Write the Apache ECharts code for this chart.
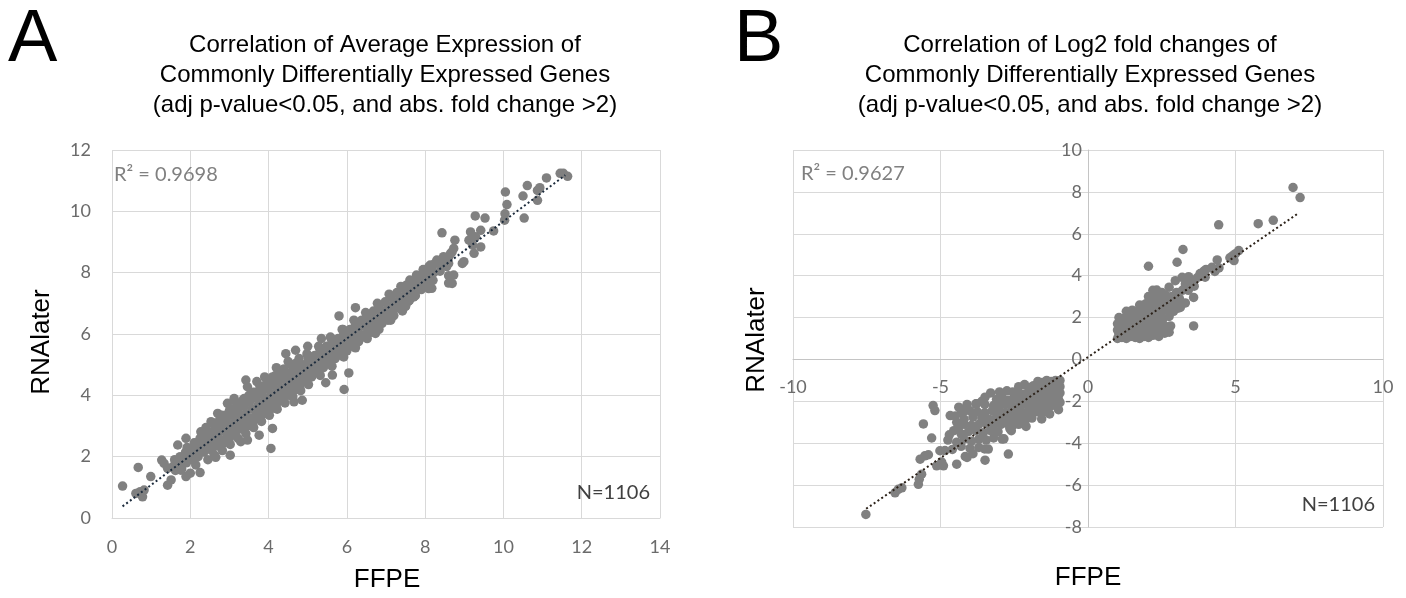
<!DOCTYPE html>
<html><head><meta charset="utf-8">
<script src="https://cdn.jsdelivr.net/npm/echarts@6/dist/echarts.min.js"></script>
<style>html,body{margin:0;padding:0;background:#fff}#c{width:1406px;height:598px}</style>
</head><body><div id="c"></div>
<script>
// ---------- text ----------
const titleA = ['Correlation of Average Expression of', 'Commonly Differentially Expressed Genes', '(adj p-value<0.05, and abs. fold change >2)'];
const titleB = ['Correlation of Log2 fold changes of', 'Commonly Differentially Expressed Genes', '(adj p-value<0.05, and abs. fold change >2)'];
const xName = 'FFPE';
const yName = 'RNAlater';
const r2A = 'R² = 0.9698';
const r2B = 'R² = 0.9627';
const nLabel = 'N=1106';

// ---------- axes ----------
const axisA = { xMin: 0, xMax: 14, xStep: 2, yMin: 0, yMax: 12, yStep: 2 };
const axisB = { xMin: -10, xMax: 10, xStep: 5, yMin: -8, yMax: 10, yStep: 2 };

// ---------- trend lines (endpoints) ----------
const trendA = [[0.27, 0.38], [11.58, 11.18]];
const trendB = [[-7.52, -7.13], [7.08, 6.93]];

// ---------- panel A points: [FFPE, RNAlater] ----------
const pointsA = [
[0.27,1.04],[0.61,0.80],[0.67,1.65],[0.72,0.86],[0.78,0.69],[0.82,0.91],[0.99,1.35],[1.27,1.89],[1.33,1.78],[1.42,1.62],
[1.55,1.67],[1.42,1.07],[1.51,1.24],[1.68,2.38],[1.89,2.60],[1.76,1.56],[1.89,1.35],[2.00,1.46],[2.25,1.48],[2.14,1.73],
[2.27,2.81],[2.44,2.76],[2.65,1.98],[3.02,2.05],[2.53,3.14],[2.70,3.41],[2.95,3.74],[3.12,3.90],[3.29,2.49],[3.46,2.54],
[3.76,2.70],[4.10,2.92],[4.06,2.27],[3.42,4.50],[3.46,4.28],[4.65,3.79],[4.86,3.84],
[1.60,1.90],[1.62,1.55],[1.65,1.75],[1.74,2.00],[1.78,1.60],[1.80,1.85],[1.88,2.15],[1.90,1.80],[1.95,1.95],[1.92,2.30],
[2.02,2.25],[2.05,1.90],[2.08,2.10],[2.10,2.45],[2.18,2.45],[2.20,2.00],[2.22,2.25],[2.25,2.60],[2.32,2.55],[2.35,2.15],
[2.38,2.40],[2.40,2.70],[2.48,2.75],[2.50,2.30],[2.52,2.55],[2.55,2.20],[2.62,2.90],[2.65,2.45],[2.68,2.70],[2.70,2.35],
[2.78,3.05],[2.80,2.55],[2.82,2.85],[2.85,2.45],[2.75,3.20],[2.92,3.20],[2.95,2.70],[2.98,3.00],[3.00,2.60],[2.90,3.35],
[3.08,3.35],[3.10,2.85],[3.12,3.10],[3.15,2.75],[3.05,3.55],[3.22,3.50],[3.25,3.00],[3.28,3.25],[3.30,2.90],[3.20,3.70],
[3.38,3.65],[3.40,3.10],[3.42,3.40],[3.45,3.00],[3.35,3.85],[3.52,3.80],[3.55,3.25],[3.58,3.55],[3.60,3.10],[3.50,4.00],
[3.68,3.90],[3.70,3.40],[3.72,3.65],[3.75,3.25],[3.65,4.10],[3.82,4.05],[3.85,3.55],[3.88,3.80],[3.90,3.40],[3.80,4.25],
[3.98,4.20],[4.00,3.70],[4.02,3.95],[4.05,3.55],[3.95,4.40],[4.12,4.35],[4.15,3.85],[4.18,4.10],[4.20,3.70],[4.10,4.60],
[4.28,4.50],[4.30,4.00],[4.32,4.25],[4.35,3.85],[4.25,4.70],[4.42,4.60],[4.45,4.15],[4.48,4.40],[4.50,4.00],[4.40,4.85],
[4.58,4.75],[4.60,4.30],[4.62,4.55],[4.65,4.15],[4.72,4.90],[4.75,4.45],[4.78,4.70],[4.80,4.30],[4.70,5.05],
[4.88,5.00],[4.90,4.60],[4.92,4.85],[4.95,4.45],[5.02,5.15],[5.05,4.75],[5.08,5.00],[5.10,4.60],[5.00,5.30],
[5.18,5.30],[5.20,4.85],[5.22,5.10],[5.25,4.75],[5.32,5.45],[5.35,5.00],[5.38,5.25],[5.40,4.90],[5.30,5.55],
[5.48,5.60],[5.50,5.15],[5.52,5.40],[5.55,5.05],[5.62,5.70],[5.65,5.30],[5.68,5.55],[5.70,5.20],[5.60,5.85],
[5.78,5.85],[5.80,5.40],[5.82,5.65],[5.85,5.30],[5.92,6.00],[5.95,5.55],[5.98,5.80],[6.00,5.45],[5.90,6.15],
[6.08,6.15],[6.10,5.70],[6.12,5.95],[6.15,5.60],[6.22,6.30],[6.25,5.85],[6.28,6.10],[6.30,5.75],
[6.38,6.45],[6.40,5.95],[6.42,6.25],[6.45,5.90],[6.52,6.60],[6.55,6.10],[6.58,6.40],[6.60,6.05],
[6.68,6.75],[6.70,6.25],[6.72,6.50],[6.75,6.20],[6.82,6.90],[6.85,6.40],[6.88,6.65],[6.90,6.35],
[6.98,7.05],[7.00,6.55],[7.02,6.80],[7.05,6.45],[7.12,7.20],[7.15,6.70],[7.18,6.95],[7.20,6.60],
[7.28,7.35],[7.30,6.85],[7.32,7.10],[7.42,7.50],[7.45,7.00],[7.48,7.25],[7.50,6.90],
[7.58,7.60],[7.60,7.10],[7.62,7.40],[7.72,7.75],[7.75,7.25],[7.78,7.55],
[7.88,7.90],[7.90,7.45],[7.92,7.70],[7.95,8.10],[8.02,8.05],[8.05,7.60],[8.08,7.85],[8.10,8.20],
[8.18,8.20],[8.20,7.75],[8.22,8.00],[8.25,8.30],[8.35,8.30],[8.38,8.05],[8.40,8.40],[8.50,8.45],[8.55,8.20],[8.60,8.50],
[2.40,2.95],[2.45,1.90],[2.58,3.10],[2.62,2.05],[2.80,3.35],[2.82,2.20],[3.00,3.50],[3.02,2.40],[3.18,3.75],[3.22,2.60],
[3.38,3.90],[3.42,2.75],[3.58,4.10],[3.62,2.95],[3.78,4.30],[3.82,3.15],[3.98,4.50],[4.02,3.35],[4.18,4.65],[4.22,3.55],
[4.38,4.85],[4.42,3.75],[4.58,5.00],[4.62,3.95],[4.78,5.20],[4.82,4.15],[4.98,5.35],[5.02,4.35],[5.28,5.60],[5.32,4.65],
[5.58,5.90],[5.62,4.95],[5.88,6.15],[5.92,5.25],[6.18,6.45],[6.22,5.55],[6.48,6.70],[6.52,5.85],[6.78,7.00],[6.82,6.15],
[7.08,7.30],[7.12,6.45],[7.38,7.55],[7.42,6.75],
[2.45,2.45],[2.90,2.90],[3.35,3.30],[3.80,3.70],[4.25,4.15],[4.70,4.60],[5.15,5.00],[5.60,5.40],[6.05,5.85],[6.50,6.30],
[6.95,6.70],[7.40,7.15],[4.20,4.90],[4.50,5.10],[5.00,5.60],[5.35,5.85],[3.90,4.60],[3.70,4.45],
[4.69,5.47],[4.44,5.36],[5.93,4.19],[6.05,4.73],[5.63,4.66],[5.46,4.41],[5.80,6.59],[6.22,6.86],[6.73,6.02],
[7.50,6.94],[7.71,7.21],[8.09,7.48],[8.60,7.90],[8.60,7.66],
[11.53,11.24],[11.45,11.24],[11.64,11.14],[11.10,11.09],[10.61,10.84],[10.87,10.68],[10.93,10.77],[10.87,10.36],
[10.05,10.63],[10.09,10.22],[10.04,9.92],[10.03,9.71],[10.50,10.50],[10.53,9.78],[9.28,9.85],[9.53,9.78],[9.75,9.36],
[8.43,9.30],[8.76,9.06],[8.73,8.79],[8.69,8.68],[9.16,9.33],[9.29,9.17],[9.42,9.38],[9.12,9.06],[9.21,8.90],[9.42,8.84],
[9.25,8.63],[8.99,8.36],[8.95,8.30],[8.73,7.92],[8.69,7.65],[8.17,7.49],[8.47,8.52],[8.30,8.41],[8.13,8.25],[7.96,8.09],
[7.78,7.92],[7.61,7.76],[7.53,7.60],[8.04,7.76],[7.87,7.60],[7.70,7.44],[7.57,7.06],[7.48,6.90],[8.60,8.30],[8.65,8.63]
];

// ---------- panel B points: [FFPE log2FC, RNAlater log2FC] ----------
const pointsB = [
[1.00,1.00],[1.15,1.05],[1.30,1.00],[1.45,1.10],[1.60,1.05],[1.75,1.00],[1.90,1.10],[2.05,1.05],[2.20,1.15],[2.40,1.10],
[1.05,1.20],[1.20,1.25],[1.35,1.20],
[1.00,1.40],[1.10,1.45],[1.25,1.40],[1.40,1.35],[1.55,1.40],[1.70,1.35],[1.85,1.45],[2.00,1.40],[2.15,1.35],[2.30,1.40],[2.50,1.30],
[1.00,1.70],[1.10,1.65],[1.25,1.75],[1.40,1.70],[1.55,1.65],[1.70,1.75],[1.85,1.70],[2.00,1.75],[2.20,1.70],[2.40,1.65],[2.60,1.60],
[1.05,2.00],[1.20,1.95],[1.35,2.05],[1.50,2.00],[1.65,2.00],[1.80,2.05],[1.95,2.00],[2.15,2.05],[2.35,2.00],[2.55,1.95],[2.75,2.05],
[1.30,2.30],[1.50,2.35],[1.70,2.30],[1.90,2.35],[2.10,2.30],[2.30,2.40],[2.50,2.30],[2.70,2.35],[2.90,2.30],[3.05,2.45],
[1.75,2.60],[1.95,2.65],[2.15,2.60],[2.35,2.70],[2.55,2.60],[2.75,2.70],[2.95,2.60],
[2.05,3.00],[2.30,3.10],[2.50,2.90],[2.65,3.05],[2.85,3.00],[3.10,2.90],[3.00,3.20],[2.20,3.30],
[1.10,1.10],[1.25,1.55],[1.45,1.85],[1.65,2.20],[1.85,2.50],[2.05,2.75],[2.25,2.85],[2.45,2.15],[2.65,2.50],[2.85,2.85],
[2.30,1.25],[2.60,1.25],[2.80,1.60],[3.20,3.30],[3.40,3.30],[3.60,3.50],[3.30,2.70],[2.75,1.30],
[2.33,3.31],[2.50,3.20],[2.75,3.45],[2.96,3.76],[3.19,3.92],[3.41,3.95],[3.30,3.60],[3.50,3.70],[3.70,3.90],[3.92,4.21],
[3.97,3.93],[3.80,4.10],[4.00,4.30],[4.20,4.40],[4.38,4.75],[4.44,4.37],[4.81,4.85],[4.95,4.72],[5.11,5.20],[5.00,5.05],
[4.90,4.95],[4.30,4.20],
[3.58,2.96],[3.58,1.60],[3.13,2.48],[2.05,4.45],[3.02,4.64],[3.22,5.25],[4.43,6.43],[5.77,6.48],[6.28,6.64],[6.95,8.21],[7.19,7.73],
[-0.95,-1.00],[-1.10,-1.00],[-1.25,-1.05],[-1.40,-1.00],[-1.55,-1.10],[-1.70,-1.05],
[-0.95,-1.30],[-1.10,-1.35],[-1.25,-1.30],[-1.40,-1.25],[-1.55,-1.35],[-1.70,-1.30],[-1.85,-1.25],[-2.00,-1.35],[-2.15,-1.20],[-2.35,-1.30],
[-0.95,-1.60],[-1.10,-1.65],[-1.25,-1.60],[-1.40,-1.55],[-1.55,-1.60],[-1.70,-1.65],[-1.85,-1.60],[-2.00,-1.55],[-2.15,-1.65],[-2.35,-1.60],[-2.55,-1.55],[-2.75,-1.50],
[-1.00,-1.90],[-1.20,-1.95],[-1.35,-1.90],[-1.50,-1.85],[-1.65,-1.95],[-1.80,-1.90],[-1.95,-1.85],[-2.10,-1.95],[-2.30,-1.90],[-2.50,-1.85],[-2.70,-1.95],[-2.90,-1.85],[-3.10,-1.90],
[-0.95,-2.05],[-1.00,-2.40],[-1.30,-2.60],
[-1.10,-2.20],[-1.30,-2.25],[-1.50,-2.20],[-1.65,-2.15],[-1.85,-2.25],[-2.00,-2.20],[-2.20,-2.15],[-2.40,-2.25],[-2.60,-2.20],[-2.80,-2.15],[-3.00,-2.25],[-3.20,-2.20],[-3.50,-2.15],[-3.80,-2.12],
[-1.40,-2.50],[-1.60,-2.55],[-1.80,-2.50],[-2.00,-2.45],[-2.20,-2.55],[-2.40,-2.50],[-2.60,-2.45],[-2.80,-2.55],[-3.00,-2.50],[-3.25,-2.45],[-3.50,-2.55],[-3.75,-2.50],[-4.00,-2.45],[-4.30,-2.55],
[-1.57,-2.84],[-1.90,-2.80],[-2.10,-2.85],[-2.30,-2.80],[-2.50,-2.75],[-2.70,-2.85],[-2.90,-2.80],[-3.10,-2.75],[-3.35,-2.85],[-3.60,-2.80],[-3.90,-2.75],[-4.20,-2.85],[-4.50,-2.70],
[-2.10,-3.20],[-2.35,-3.10],[-2.55,-3.15],[-2.75,-3.05],[-2.95,-3.10],[-3.20,-3.15],[-3.45,-3.05],[-3.70,-3.10],[-3.95,-3.15],[-4.20,-3.10],[-4.45,-3.00],
[-2.60,-3.40],[-2.91,-3.80],[-3.05,-3.45],[-3.30,-3.40],[-3.55,-3.50],[-3.80,-3.40],[-4.05,-3.45],[-4.30,-3.55],[-4.55,-3.40],
[-2.85,-3.79],[-3.20,-3.75],[-3.45,-3.85],[-3.70,-3.80],[-3.95,-3.90],[-4.20,-3.80],[-4.45,-3.95],[-4.75,-3.85],
[-3.38,-4.28],[-3.70,-4.20],[-4.00,-4.25],[-4.30,-4.15],[-4.60,-4.30],[-4.85,-4.35],[-3.50,-4.27],
[-1.20,-1.15],[-1.50,-1.45],[-1.80,-1.75],[-2.10,-2.05],[-2.40,-2.35],[-2.70,-2.65],[-3.00,-2.95],[-3.30,-3.25],
[-1.45,-2.00],[-1.75,-2.40],[-2.05,-2.65],[-2.35,-2.95],[-2.65,-3.30],[-3.30,-1.60],[-3.00,-1.55],[-3.60,-2.00],
[-4.10,-2.15],[-4.40,-3.30],[-4.70,-3.60],[-3.90,-4.50],
[-3.49,-4.81],[-2.70,-4.52],[-4.10,-4.68],[-4.45,-5.00],[-5.13,-5.08],[-4.90,-5.08],[-5.02,-4.36],[-5.69,-4.76],[-5.53,-4.60],
[-5.41,-4.55],[-5.58,-3.08],[-5.30,-3.75],[-5.19,-2.44],[-5.25,-2.20],[-5.75,-5.96],[-5.72,-5.72],[-5.64,-5.48],
[-6.54,-6.37],[-6.43,-6.20],[-6.31,-6.13],[-7.53,-7.40],[-4.67,-2.68],[-4.38,-2.28],[-4.16,-2.44],[-3.49,-1.80],[-3.78,-2.12],
[-4.16,-4.63],[-4.96,-4.90]
];

// ---------- style ----------
const dotColor = '#808080';
const gridColor = '#d9d9d9';
const zeroLineColor = '#c4c4c4';
const tickColor = '#6b6b6b';
const tickFont = 'Lato';
const headFont = '"Liberation Sans", Arial, sans-serif';

const gridA = { left: 112, top: 150, width: 548, height: 368 };
const gridB = { left: 793, top: 150, width: 590, height: 377 };
// B axes cross at zero: shift them inward by the zero position within the grid
const bXAxisOffset = -gridB.height * (0 - axisB.yMin) / (axisB.yMax - axisB.yMin);
const bYAxisOffset = -gridB.width * (0 - axisB.xMin) / (axisB.xMax - axisB.xMin);

function lbl(margin) {
  return { color: tickColor, fontFamily: tickFont, fontSize: 18, margin: margin, hideOverlap: false, showMinLabel: true, showMaxLabel: true };
}
function valAxis(gridIndex, r, isX, extra) {
  return Object.assign({
    type: 'value', gridIndex: gridIndex,
    min: isX ? r.xMin : r.yMin, max: isX ? r.xMax : r.yMax, interval: isX ? r.xStep : r.yStep,
    axisTick: { show: false },
    splitLine: { show: true, lineStyle: { color: gridColor, width: 1 } }
  }, extra);
}

const chart = echarts.init(document.getElementById('c'), null, { renderer: 'canvas' });

const option = {
  animation: false,
  backgroundColor: '#ffffff',
  grid: [
    Object.assign({ containLabel: false, outerBoundsMode: 'none' }, gridA),
    Object.assign({ containLabel: false, outerBoundsMode: 'none' }, gridB)
  ],
  xAxis: [
    valAxis(0, axisA, true, { position: 'bottom', axisLine: { show: true, onZero: false, lineStyle: { color: gridColor } }, axisLabel: lbl(20) }),
    valAxis(1, axisB, true, { position: 'bottom', offset: bXAxisOffset, axisLine: { show: true, onZero: false, lineStyle: { color: zeroLineColor } }, axisLabel: lbl(19) })
  ],
  yAxis: [
    valAxis(0, axisA, false, { position: 'left', axisLine: { show: false, onZero: false }, axisLabel: lbl(21) }),
    valAxis(1, axisB, false, { position: 'left', offset: bYAxisOffset, axisLine: { show: true, onZero: false, lineStyle: { color: zeroLineColor } }, axisLabel: lbl(6) })
  ],
  series: [
    { type: 'scatter', xAxisIndex: 0, yAxisIndex: 0, data: pointsA, symbol: 'circle', symbolSize: 9.5, itemStyle: { color: dotColor, opacity: 1 }, z: 2, silent: true },
    { type: 'line', xAxisIndex: 0, yAxisIndex: 0, data: trendA, showSymbol: false, symbol: 'none', lineStyle: { color: '#1c2b3c', width: 2, type: [2, 2.6] }, z: 3, silent: true },
    { type: 'scatter', xAxisIndex: 1, yAxisIndex: 1, data: pointsB, symbol: 'circle', symbolSize: 9.5, itemStyle: { color: dotColor, opacity: 1 }, z: 2, silent: true },
    { type: 'line', xAxisIndex: 1, yAxisIndex: 1, data: trendB, showSymbol: false, symbol: 'none', lineStyle: { color: '#2b2118', width: 2, type: [2, 2.6] }, z: 3, silent: true }
  ],
  graphic: [
    { type: 'text', left: 8, top: 4, style: { text: 'A', font: '74px ' + headFont, fill: '#000' } },
    { type: 'text', left: 734, top: 4, style: { text: 'B', font: '74px ' + headFont, fill: '#000' } },
    { type: 'text', x: 385, y: 30, style: { text: titleA.join('\n'), font: '24px ' + headFont, fill: '#000', align: 'center', verticalAlign: 'top', lineHeight: 30 } },
    { type: 'text', x: 1090, y: 30, style: { text: titleB.join('\n'), font: '24px ' + headFont, fill: '#000', align: 'center', verticalAlign: 'top', lineHeight: 30 } },
    { type: 'text', x: 42, y: 342, rotation: Math.PI / 2, style: { text: yName, font: '26px ' + headFont, fill: '#000', align: 'center', verticalAlign: 'middle' } },
    { type: 'text', x: 757, y: 340, rotation: Math.PI / 2, style: { text: yName, font: '26px ' + headFont, fill: '#000', align: 'center', verticalAlign: 'middle' } },
    { type: 'text', x: 387, y: 580, style: { text: xName, font: '26px ' + headFont, fill: '#000', align: 'center', verticalAlign: 'middle' } },
    { type: 'text', x: 1088, y: 578, style: { text: xName, font: '26px ' + headFont, fill: '#000', align: 'center', verticalAlign: 'middle' } },
    { type: 'text', x: 114, y: 175, z: 10, style: { text: r2A, font: '20px Lato', fill: '#808080', align: 'left', verticalAlign: 'middle' } },
    { type: 'text', x: 801, y: 174, z: 10, style: { text: r2B, font: '20px Lato', fill: '#808080', align: 'left', verticalAlign: 'middle' } },
    { type: 'text', x: 650, y: 493, z: 10, style: { text: nLabel, font: '20px Lato', fill: '#404040', align: 'right', verticalAlign: 'middle' } },
    { type: 'text', x: 1375, y: 505, z: 10, style: { text: nLabel, font: '20px Lato', fill: '#404040', align: 'right', verticalAlign: 'middle' } }
  ]
};
chart.setOption(option);
</script>
</body></html>
